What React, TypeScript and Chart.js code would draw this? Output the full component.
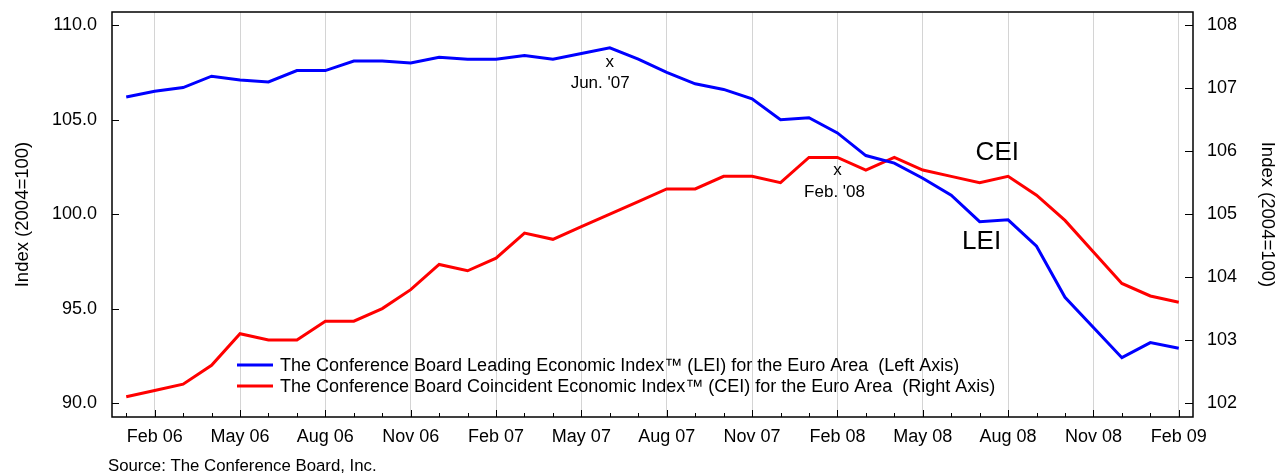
import React, { useEffect, useRef } from "react";
import { Chart, registerables } from "chart.js";

Chart.register(...registerables);

const FONT = '"Liberation Sans", Arial, Helvetica, sans-serif';

const months = [
  "Jan 06", "Feb 06", "Mar 06", "Apr 06", "May 06", "Jun 06", "Jul 06", "Aug 06", "Sep 06", "Oct 06", "Nov 06", "Dec 06",
  "Jan 07", "Feb 07", "Mar 07", "Apr 07", "May 07", "Jun 07", "Jul 07", "Aug 07", "Sep 07", "Oct 07", "Nov 07", "Dec 07",
  "Jan 08", "Feb 08", "Mar 08", "Apr 08", "May 08", "Jun 08", "Jul 08", "Aug 08", "Sep 08", "Oct 08", "Nov 08", "Dec 08",
  "Jan 09", "Feb 09",
];

const leiValues = [
  106.2, 106.5, 106.7, 107.3, 107.1, 107.0, 107.6, 107.6, 108.1, 108.1, 108.0, 108.3,
  108.2, 108.2, 108.4, 108.2, 108.5, 108.8, 108.2, 107.5, 106.9, 106.6, 106.1, 105.0,
  105.1, 104.3, 103.1, 102.7, 101.9, 101.0, 99.6, 99.7, 98.3, 95.6, 94.0, 92.4,
  93.2, 92.9,
];

const ceiValues = [
  102.1, 102.2, 102.3, 102.6, 103.1, 103.0, 103.0, 103.3, 103.3, 103.5, 103.8, 104.2,
  104.1, 104.3, 104.7, 104.6, 104.8, 105.0, 105.2, 105.4, 105.4, 105.6, 105.6, 105.5,
  105.9, 105.9, 105.7, 105.9, 105.7, 105.6, 105.5, 105.6, 105.3, 104.9, 104.4, 103.9,
  103.7, 103.6,
];

const leftTicks = [90, 95, 100, 105, 110];
const rightTicks = [102, 103, 104, 105, 106, 107, 108];

const leiLabel = "The Conference Board Leading Economic Index\u2122 (LEI) for the Euro Area  (Left Axis)";
const ceiLabel = "The Conference Board Coincident Economic Index\u2122 (CEI) for the Euro Area  (Right Axis)";
const axisTitle = "Index (2004=100)";
const sourceText = "Source: The Conference Board, Inc.";

// annotations in data coordinates: [text, month index, axis, value, font size]
const annotations: [string, number, "y" | "y1", number, number][] = [
  ["x", 17, "y", 108.06, 17],
  ["Jun. '07", 16.66, "y", 106.94, 17],
  ["x", 25, "y1", 105.7, 17],
  ["Feb. '08", 24.9, "y1", 105.34, 17],
  ["CEI", 30.62, "y1", 105.98, 26],
  ["LEI", 30.07, "y", 98.51, 26],
];

const isMajor = (i: number) => (i - 1) % 3 === 0;

const decorPlugin = {
  id: "decor",
  afterDraw(chart: any) {
    const { ctx, chartArea: a, scales } = chart;
    const xs = scales.x;
    const yl = scales.y;
    const yr = scales.y1;
    ctx.save();
    // inside tick marks
    ctx.strokeStyle = "#000";
    ctx.lineWidth = 1;
    ctx.beginPath();
    months.forEach((_, i) => {
      const px = Math.round(xs.getPixelForValue(i)) + 0.5;
      const len = isMajor(i) ? 7 : 4;
      ctx.moveTo(px, a.bottom);
      ctx.lineTo(px, a.bottom - len);
    });
    leftTicks.forEach((v) => {
      const py = Math.round(yl.getPixelForValue(v)) + 0.5;
      ctx.moveTo(a.left, py);
      ctx.lineTo(a.left + 7, py);
    });
    rightTicks.forEach((v) => {
      const py = Math.round(yr.getPixelForValue(v)) + 0.5;
      ctx.moveTo(a.right, py);
      ctx.lineTo(a.right - 8, py);
    });
    ctx.stroke();
    // frame
    ctx.lineWidth = 1.5;
    ctx.strokeRect(a.left, a.top, a.right - a.left, a.bottom - a.top);

    // legend (inside plot area)
    const ds = chart.data.datasets;
    const lx = a.left + 125;
    const rows = [a.bottom - 52, a.bottom - 31];
    ctx.font = `18px ${FONT}`;
    ctx.textBaseline = "middle";
    ctx.textAlign = "left";
    ds.forEach((d: any, k: number) => {
      ctx.strokeStyle = d.borderColor;
      ctx.lineWidth = 3;
      ctx.beginPath();
      ctx.moveTo(lx, rows[k]);
      ctx.lineTo(lx + 36, rows[k]);
      ctx.stroke();
      ctx.fillStyle = "#000";
      ctx.fillText(d.label, lx + 43, rows[k] + 1);
    });

    // annotations
    ctx.textAlign = "center";
    ctx.fillStyle = "#000";
    annotations.forEach(([t, xi, axis, v, size]) => {
      ctx.font = `${size}px ${FONT}`;
      const px = xs.getPixelForValue(xi);
      const py = scales[axis].getPixelForValue(v);
      ctx.fillText(t, px, py);
    });

    // source
    ctx.font = `16.8px ${FONT}`;
    ctx.textAlign = "left";
    ctx.fillText(sourceText, 108, chart.height - 8);
    ctx.restore();
  },
};

export default function App() {
  const ref = useRef<HTMLCanvasElement | null>(null);
  useEffect(() => {
    document.body.style.margin = "0";
    if (!ref.current) return;
    Chart.defaults.color = "#000";
    const chart = new Chart(ref.current, {
      type: "line",
      data: {
        labels: months,
        datasets: [
          {
            label: leiLabel,
            data: leiValues,
            borderColor: "#0000ff",
            backgroundColor: "#0000ff",
            borderWidth: 3,
            pointRadius: 0,
            tension: 0,
            yAxisID: "y",
          },
          {
            label: ceiLabel,
            data: ceiValues,
            borderColor: "#ff0000",
            backgroundColor: "#ff0000",
            borderWidth: 3,
            pointRadius: 0,
            tension: 0,
            yAxisID: "y1",
          },
        ],
      },
      options: {
        responsive: false,
        animation: false,
        layout: { padding: { top: 12, left: 0, right: 0, bottom: 0 } },
        plugins: { legend: { display: false }, tooltip: { enabled: false } },
        scales: {
          x: {
            type: "category",
            offset: true,
            border: { display: false },
            grid: {
              drawTicks: false,
              color: (c: any) => (isMajor(c.index) ? "#d4d4d4" : "rgba(0,0,0,0)"),
              lineWidth: 1,
            },
            ticks: {
              autoSkip: false,
              maxRotation: 0,
              padding: 9,
              color: "#000",
              font: { size: 18, family: FONT },
              callback: (_v: any, i: number) => (isMajor(i) ? months[i] : ""),
            },
            afterFit: (s: any) => {
              s.height = 57;
              s.paddingLeft = 0;
              s.paddingRight = 0;
            },
          },
          y: {
            position: "left",
            min: 89.26,
            max: 110.7,
            border: { display: false },
            grid: { drawOnChartArea: false, drawTicks: false },
            ticks: {
              stepSize: 5,
              includeBounds: false,
              padding: 15,
              color: "#000",
              font: { size: 18, family: FONT },
              callback: (v: any) => Number(v).toFixed(1),
            },
            title: {
              display: true,
              text: axisTitle,
              color: "#000",
              font: { size: 18.5, family: FONT },
              padding: { top: 12, bottom: 0 },
            },
            afterFit: (s: any) => {
              s.width = 112;
              s.paddingTop = 0;
              s.paddingBottom = 0;
            },
          },
          y1: {
            position: "right",
            min: 101.778,
            max: 108.21,
            border: { display: false },
            grid: { drawOnChartArea: false, drawTicks: false },
            ticks: {
              stepSize: 1,
              includeBounds: false,
              padding: 14,
              color: "#000",
              font: { size: 18, family: FONT },
              callback: (v: any) => String(Math.round(Number(v))),
            },
            title: {
              display: true,
              text: axisTitle,
              color: "#000",
              font: { size: 18.5, family: FONT },
              padding: { top: 0, bottom: 0 },
            },
            afterFit: (s: any) => {
              s.width = 85;
              s.paddingTop = 0;
              s.paddingBottom = 0;
            },
          },
        },
      },
      plugins: [decorPlugin],
    });
    return () => chart.destroy();
  }, []);
  return (
    <canvas ref={ref} width={1278} height={474} style={{ display: "block", width: 1278, height: 474 }} />
  );
}
